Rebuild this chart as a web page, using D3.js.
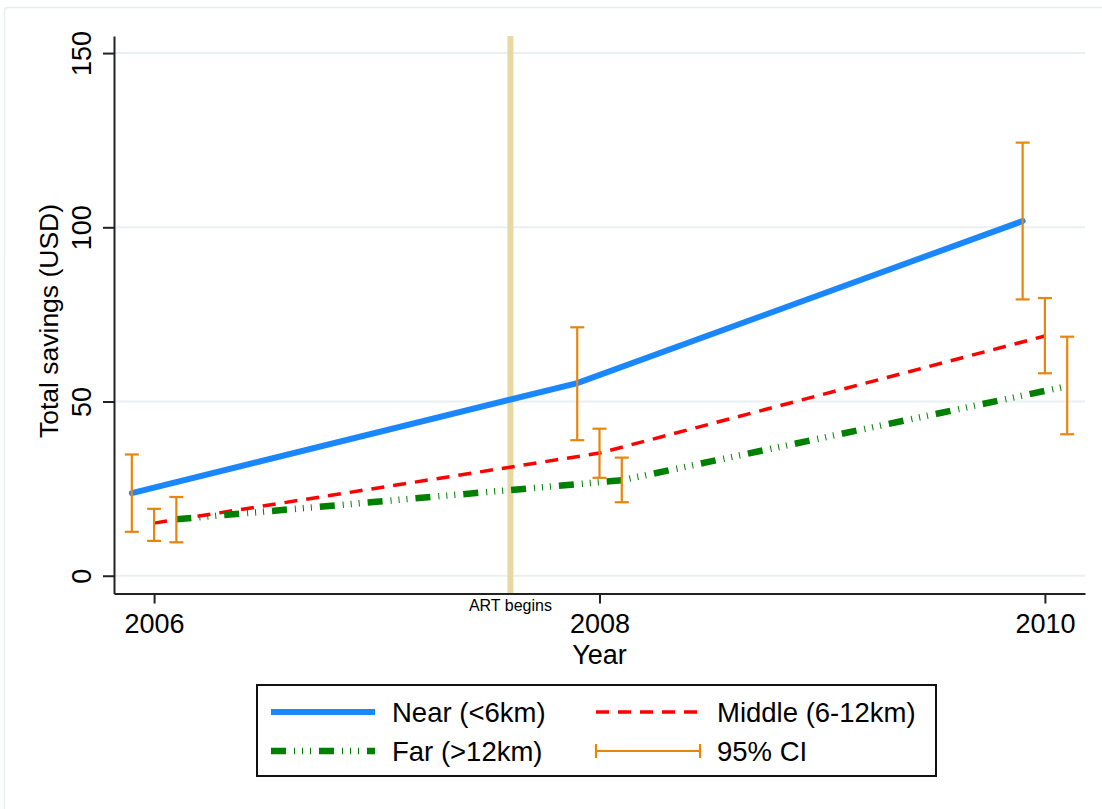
<!DOCTYPE html>
<html>
<head>
<meta charset="utf-8">
<script src="https://cdn.jsdelivr.net/npm/d3@7"></script>
<style>
  body { margin: 0; background: #fff; }
  text { font-family: "Liberation Sans", Arial, sans-serif; fill: #000; }
</style>
</head>
<body>
<div id="chart"></div>
<script>
// data
var years = [2006, 2008, 2010];
var nearMean = [23.7, 55.3, 101.8];
var nearLow = [12.6, 38.9, 79.3];
var nearHigh = [34.8, 71.3, 124.3];
var middleMean = [15.1, 35.2, 68.8];
var middleLow = [10.0, 28.1, 58.1];
var middleHigh = [19.2, 42.2, 79.7];
var farMean = [16.2, 27.4, 54.4];
var farLow = [9.6, 21.1, 40.6];
var farHigh = [22.6, 33.9, 68.6];
var yTicks = [0, 50, 100, 150];
var artYear = 2007.6;
var legendLabels = ["Near (<6km)", "Middle (6-12km)", "Far (>12km)", "95% CI"];

var svgWidth = 1102;
var svgHeight = 809;

var svg = d3.select("#chart")
  .append("svg")
  .attr("width", svgWidth)
  .attr("height", svgHeight);

// light outer frame
svg.append("rect")
  .attr("x", 4.5)
  .attr("y", 7.5)
  .attr("width", 1120)
  .attr("height", 830)
  .attr("rx", 3)
  .attr("fill", "none")
  .attr("stroke", "#e6eef0")
  .attr("stroke-width", 1.5);

var xScale = d3.scaleLinear()
  .domain([2005.82, 2010.18])
  .range([114, 1085]);

var yScale = d3.scaleLinear()
  .domain([-5.1, 154.9])
  .range([593.5, 36]);

// gridlines
svg.append("g")
  .selectAll("line")
  .data(yTicks)
  .enter()
  .append("line")
  .attr("x1", 114)
  .attr("x2", 1085)
  .attr("y1", d => yScale(d))
  .attr("y2", d => yScale(d))
  .attr("stroke", "#e8f0f2")
  .attr("stroke-width", 2);

// ART line
svg.append("line")
  .attr("x1", xScale(artYear))
  .attr("x2", xScale(artYear))
  .attr("y1", 36)
  .attr("y2", 593.5)
  .attr("stroke", "#e6d9a2")
  .attr("stroke-width", 6);

svg.append("text")
  .attr("x", xScale(artYear))
  .attr("y", 611)
  .attr("text-anchor", "middle")
  .style("font-size", "16px")
  .text("ART begins");

// axes
var bottomAxis = d3.axisBottom(xScale)
  .tickValues(years)
  .tickFormat(d3.format("d"))
  .tickSize(10)
  .tickSizeOuter(0);

var leftAxis = d3.axisLeft(yScale)
  .tickValues(yTicks)
  .tickSize(11)
  .tickSizeOuter(0);

var xAxisG = svg.append("g")
  .attr("transform", "translate(0, 593.5)")
  .call(bottomAxis);

var yAxisG = svg.append("g")
  .attr("transform", "translate(114, 0)")
  .call(leftAxis);

[xAxisG, yAxisG].forEach(function (g) {
  g.select(".domain").attr("stroke", "#222").attr("stroke-width", 2);
  g.selectAll(".tick line").attr("stroke", "#222").attr("stroke-width", 2);
  g.selectAll(".tick text")
    .style("font-size", "27px")
    .style("font-family", "'Liberation Sans', Arial, sans-serif")
    .attr("fill", "#000");
});

xAxisG.selectAll(".tick text")
  .attr("y", 0)
  .attr("dy", 0)
  .attr("transform", "translate(0, 39)");

yAxisG.selectAll(".tick text")
  .attr("x", 0)
  .attr("dy", 0)
  .attr("text-anchor", "middle")
  .attr("transform", "translate(-23, 0) rotate(-90)");

svg.append("text")
  .attr("x", xScale(2008))
  .attr("y", 664)
  .attr("text-anchor", "middle")
  .style("font-size", "27px")
  .text("Year");

svg.append("text")
  .attr("transform", "translate(58, 321) rotate(-90)")
  .attr("text-anchor", "middle")
  .style("font-size", "26.5px")
  .text("Total savings (USD)");

// series
var series = [
  { mean: nearMean, low: nearLow, high: nearHigh, shift: -0.1, color: "#1a87ff", width: 6, dash: null },
  { mean: middleMean, low: middleLow, high: middleHigh, shift: 0, color: "#ff0000", width: 3.5, dash: "13,9" },
  { mean: farMean, low: farLow, high: farHigh, shift: 0.1, color: "#008000", width: 6.5, dash: "15,8,1,7,1,7,1,8" }
];

var line = d3.line()
  .x(d => xScale(d.x))
  .y(d => yScale(d.y));

series.forEach(function (s) {
  var pts = years.map(function (yr, i) {
    return { x: yr + s.shift, y: s.mean[i] };
  });
  svg.append("path")
    .datum(pts)
    .attr("d", line)
    .attr("fill", "none")
    .attr("stroke", s.color)
    .attr("stroke-width", s.width)
    .attr("stroke-dasharray", s.dash)
    .attr("stroke-linecap", s.dash ? "butt" : "round");
});

// CI bars on top
var ciColor = "#e8850c";
series.forEach(function (s) {
  var g = svg.append("g")
    .attr("stroke", ciColor)
    .attr("stroke-width", 2.2);
  years.forEach(function (yr, i) {
    var cx = xScale(yr + s.shift);
    g.append("line")
      .attr("x1", cx).attr("x2", cx)
      .attr("y1", yScale(s.low[i])).attr("y2", yScale(s.high[i]));
    [s.low[i], s.high[i]].forEach(function (v) {
      g.append("line")
        .attr("x1", cx - 7).attr("x2", cx + 7)
        .attr("y1", yScale(v)).attr("y2", yScale(v));
    });
  });
});

// legend
var legend = svg.append("g");
legend.append("rect")
  .attr("x", 257)
  .attr("y", 685)
  .attr("width", 679)
  .attr("height", 91)
  .attr("fill", "#fff")
  .attr("stroke", "#111")
  .attr("stroke-width", 2);

var legendItems = [
  { label: legendLabels[0], x: 271, y: 712, color: "#1a87ff", width: 6, dash: null },
  { label: legendLabels[1], x: 596, y: 712, color: "#ff0000", width: 3.5, dash: "13,9" },
  { label: legendLabels[2], x: 271, y: 751, color: "#008000", width: 6.5, dash: "15,8,1,7,1,7,1,8" },
  { label: legendLabels[3], x: 596, y: 751, color: ciColor, width: 2.2, dash: null, ci: true }
];

legendItems.forEach(function (it) {
  legend.append("line")
    .attr("x1", it.x).attr("x2", it.x + 104)
    .attr("y1", it.y).attr("y2", it.y)
    .attr("stroke", it.color)
    .attr("stroke-width", it.width)
    .attr("stroke-dasharray", it.dash);
  if (it.ci) {
    [it.x, it.x + 104].forEach(function (cx) {
      legend.append("line")
        .attr("x1", cx).attr("x2", cx)
        .attr("y1", it.y - 7).attr("y2", it.y + 7)
        .attr("stroke", it.color)
        .attr("stroke-width", it.width);
    });
  }
  legend.append("text")
    .attr("x", it.x + 121)
    .attr("y", it.y + 10)
    .style("font-size", "27.5px")
    .text(it.label);
});
</script>
</body>
</html>
